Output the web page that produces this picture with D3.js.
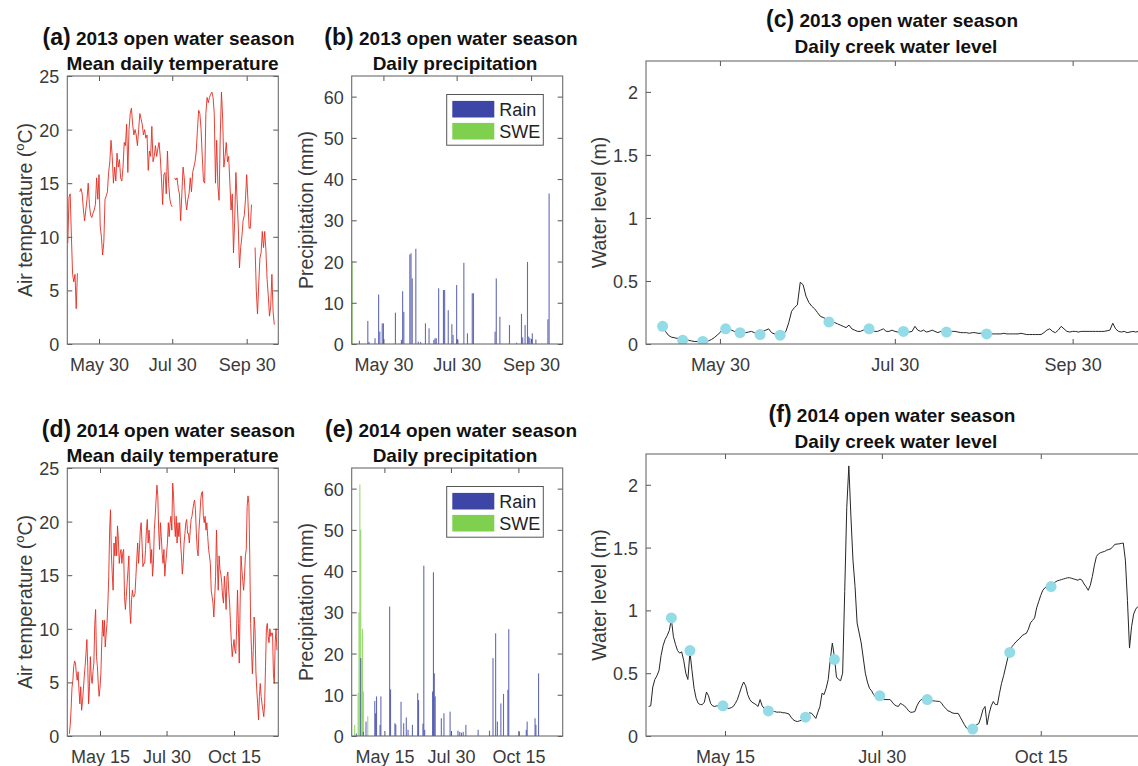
<!DOCTYPE html>
<html lang="en">
<head>
  <meta charset="UTF-8" />
  <title>Open water seasons 2013 and 2014</title>
  <script src="https://d3js.org/d3.v7.min.js"></script>
  <style>
    html, body {
      margin: 0;
      background: #fff;
    }

    svg {
      display: block;
      font-family: "Liberation Sans", Arial, sans-serif;
    }

    /* tick labels and inward ticks, MATLAB look */
    .tick text {
      font-family: "Liberation Sans", Arial, sans-serif;
      font-size: 18px;
      fill: #3a3a3a;
    }

    .tick line {
      stroke: #555;
    }

    .frame {
      fill: none;
      stroke: #6b6b6b;
      stroke-width: 1.1;
    }

    .ttl {
      font-weight: bold;
      font-size: 19px;
      fill: #111;
      text-anchor: middle;
    }

    .ylab {
      font-size: 19.5px;
      fill: #3a3a3a;
      text-anchor: middle;
    }

    .legend text {
      font-size: 18px;
      fill: #222;
    }
  </style>
</head>

<body>
  <svg id="fig" width="1138" height="766"></svg>
  <script>
    // ---- data ----

    // mean daily air temperature (degC), one value per day
    const temp2013Start = "2013-05-04";
    const temp2013 = [
      9.4, 13.7, 14.0, 10.0, 6.5, 5.8, 6.5, 3.3, 6.6, null,
      14.2, 14.5, 14.0, 12.5, 11.5, 12.5, 13.5, 15.0, 13.0, 12.0,
      11.8, 12.2, 12.5, 13.0, 15.5, 13.5, 15.8, 11.0, 10.0, 8.3,
      9.5, 13.5, 13.8, 14.2, 16.0, 17.0, 19.0, 17.5, 15.0, 16.5,
      15.2, 17.8, 16.5, 17.2, 15.5, 15.2, 16.5, 18.8, 18.5, 20.5,
      16.0, 20.0, 21.5, 22.0, 20.5, 19.5, 20.0, 19.5, 18.5, 20.0,
      21.5, 21.0, 20.5, 19.5, 20.0, 19.2, 19.5, 16.2, 18.0, 17.5,
      20.3, 17.0, 17.5, 18.5, 17.5, 18.2, 18.8, 17.5, 15.5, 13.0,
      15.8, 16.0, 14.0, 18.0, 15.0, 13.5, 13.0, 12.8, null, 15.5,
      15.3, 15.5, 14.5, 14.0, 11.5, 14.0, 16.5, 15.5, 13.5, 12.5,
      13.5, 14.0, 15.5, 14.2, 16.0, 16.5, 17.0, 18.0, 20.0, 21.8,
      21.5, 20.0, 17.5, 15.2, 15.0, 21.5, 23.0, 22.5, 23.0, 23.3,
      23.5, 23.0, 21.5, 15.0, 19.0, 14.8, 13.4, 19.5, 23.5, 21.0,
      16.5, 17.5, 18.8, 17.0, 17.5, 15.0, 12.5, 14.0, 8.5, 11.5,
      16.0, 13.5, 11.0, 7.1, 9.0, 10.0, 11.5, 12.0, 13.5, 15.8,
      13.5, 10.8, 10.8, 13.0, null, null, 9.0, 5.0, 2.8, 5.5,
      8.0, 8.5, 10.5, 9.0, 10.5, 8.8, 6.0, 4.5, 2.6, 3.5,
      6.5, 3.0, 1.8
    ];

    const temp2014Start = "2014-04-10";
    const temp2014 = [
      0.2, 1.0, 2.5, 4.5, 5.2, 6.5, 7.0, 6.8, 5.8, 5.2,
      6.0, 4.3, 3.0, 4.6, 2.4, 3.2, 4.3, 5.5, 6.5, 7.7,
      9.0, 6.5, 3.0, 4.6, 7.4, 5.5, 4.9, 6.0, 6.8, 10.4,
      11.8, 7.4, 6.5, 4.9, 3.7, 4.5, 5.8, 8.7, 10.8, 9.3,
      10.8, 8.3, 9.5, 10.5, 12.4, 14.9, 19.2, 21.1, 17.0, 15.1,
      13.6, 18.0, 16.8, 18.6, 16.8, 19.6, 18.3, 16.1, 17.0, 17.4,
      16.1, 17.1, 17.4, 13.0, 11.8, 13.0, 14.3, 15.5, 16.8, 11.8,
      10.5, 12.7, 13.6, 13.0, 13.0, 13.3, 14.9, 16.5, 18.0, 16.1,
      17.4, 19.2, 19.9, 18.0, 15.8, 16.1, 16.1, 17.4, 19.2, 20.2,
      18.0, 19.2, 18.0, 16.1, 17.4, 14.9, 16.1, 19.2, 20.5, 22.0,
      23.4, 22.4, 19.2, 17.4, 19.9, 18.6, 17.0, 16.1, 17.4, 14.9,
      16.1, 17.0, 18.0, 19.9, 18.6, 19.9, 20.5, 19.2, 23.6, 22.4,
      20.0, 18.6, 20.5, 18.0, 19.9, 18.6, 19.9, 18.0, 16.8, 15.1,
      16.1, 18.0, 18.9, 19.9, 20.2, 18.9, 18.9, 18.0, 19.2, 20.2,
      20.5, 21.1, 21.7, 22.0, 21.1, 19.0, 17.4, 16.8, 19.2, 20.5,
      22.0, 22.7, 22.8, 20.5, 19.9, 20.5, 19.2, 19.9, 18.6, 17.4,
      16.8, 16.1, 13.6, 13.0, 12.4, 11.1, 13.0, 14.9, 19.2, 16.1,
      13.6, 16.8, 15.5, 15.1, 14.3, 13.0, 12.4, 14.9, 13.6, 11.8,
      14.9, 15.3, 13.5, 12.4, 10.5, 8.7, 7.4, 8.3, 9.0, 8.0,
      7.7, 10.0, 13.6, 10.5, 6.8, 12.4, 16.8, 15.5, 14.5, 13.6,
      14.9, 16.8, 17.4, 21.4, 22.4, 21.7, 16.8, 10.5, 8.0, 5.8,
      8.0, 11.1, 10.0, 6.0, 4.3, 3.0, 1.5, 3.7, 4.9, 3.7,
      3.0, 2.4, 1.8, 3.0, 6.5, 10.0, 10.5, 9.3, 8.7, 10.0,
      9.3, 9.6, 9.6, 5.8, 4.9, 8.7, 10.0, 8.0
    ];

    // daily precipitation (mm)
    const rain2013Dates = [
      "2013-05-10", "2013-05-17", "2013-05-18", "2013-05-23", "2013-05-26", "2013-05-27",
      "2013-05-29", "2013-05-30", "2013-06-09", "2013-06-14", "2013-06-15", "2013-06-16",
      "2013-06-21", "2013-06-22", "2013-06-23", "2013-06-26", "2013-06-28", "2013-06-30",
      "2013-07-04", "2013-07-07", "2013-07-11", "2013-07-12", "2013-07-13", "2013-07-15",
      "2013-07-19", "2013-07-20", "2013-07-23", "2013-07-26", "2013-07-27", "2013-07-30",
      "2013-07-31", "2013-08-05", "2013-08-08", "2013-08-12", "2013-08-13", "2013-08-31",
      "2013-09-01", "2013-09-04", "2013-09-12", "2013-09-18", "2013-09-22", "2013-09-23",
      "2013-09-25", "2013-09-27", "2013-09-28", "2013-09-29", "2013-10-01", "2013-10-04",
      "2013-10-14", "2013-10-15"
    ];
    const rain2013 = [
      0.8, 5.6, 0.5, 1.4, 12.0, 3.0,
      5.0, 5.0, 7.6, 1.0, 12.8, 7.8,
      21.7, 22.0, 15.9, 23.1, 0.6, 0.5,
      5.0, 3.8, 1.0, 1.4, 1.4, 13.5,
      13.1, 13.1, 8.2, 4.8, 2.2, 14.3,
      1.0, 19.7, 2.6, 12.3, 12.3, 3.0,
      15.9, 6.6, 4.6, 0.3, 7.3, 1.6,
      4.6, 19.9, 1.8, 1.4, 2.6, 1.1,
      6.0, 36.5
    ];
    const swe2013Dates = ["2013-05-04"];
    const swe2013 = [20.0];

    const rain2014Dates = [
      "2014-04-13", "2014-04-18", "2014-04-21", "2014-04-24", "2014-05-04", "2014-05-05",
      "2014-05-06", "2014-05-10", "2014-05-11", "2014-05-21", "2014-05-22", "2014-05-27",
      "2014-05-28", "2014-06-03", "2014-06-06", "2014-06-09", "2014-06-11", "2014-06-16",
      "2014-06-22", "2014-06-23", "2014-06-28", "2014-06-29", "2014-06-30", "2014-07-09",
      "2014-07-10", "2014-07-11", "2014-07-12", "2014-07-19", "2014-07-22", "2014-07-29",
      "2014-08-07", "2014-08-09", "2014-08-11", "2014-08-13", "2014-08-16", "2014-08-30",
      "2014-09-12", "2014-09-16", "2014-09-19", "2014-09-21", "2014-09-25", "2014-09-28",
      "2014-10-03", "2014-10-04", "2014-10-16", "2014-10-24", "2014-10-25", "2014-11-03",
      "2014-11-04", "2014-11-07"
    ];
    const rain2014 = [
      0.6, 18.9, 1.0, 3.5, 8.5, 5.5,
      9.6, 2.7, 9.6, 31.4, 11.3, 3.1,
      2.8, 8.3, 3.1, 4.5, 1.5, 2.7,
      10.4, 8.7, 3.0, 41.3, 1.5, 10.8,
      39.7, 15.2, 9.6, 4.3, 5.5, 5.9,
      1.3, 1.0, 0.8, 1.0, 2.7, 1.5,
      1.3, 18.9, 24.9, 3.5, 7.9, 10.2,
      11.2, 25.9, 1.0, 1.5, 3.5, 4.3,
      2.7, 15.2
    ];
    const swe2014Dates = [
      "2014-04-11", "2014-04-15", "2014-04-16", "2014-04-17",
      "2014-04-18", "2014-04-20", "2014-04-21", "2014-04-26"
    ];
    const swe2014 = [2.7, 10.4, 30.0, 61.0, 50.0, 26.0, 10.8, 4.8];

    // daily creek water level (m)
    const level2013Start = "2013-05-10";
    const level2013 = [
      0.14, 0.10, 0.07, 0.055, 0.05, 0.045, 0.045, 0.04, 0.035, 0.03,
      0.025, 0.02, 0.02, 0.02, 0.02, 0.02, 0.025, 0.035, 0.05, 0.07,
      0.09, 0.12, 0.125, 0.12, 0.11, 0.10, 0.09, 0.09, 0.085, 0.09,
      0.095, 0.10, 0.09, 0.085, 0.09, 0.10, 0.11, 0.12, 0.09, 0.08,
      0.075, 0.075, 0.08, 0.10, 0.17, 0.26, 0.29, 0.31, 0.49, 0.47,
      0.38, 0.33, 0.30, 0.28, 0.25, 0.22, 0.21, 0.20, 0.185, 0.18,
      0.17, 0.16, 0.15, 0.14, 0.13, 0.15, 0.12, 0.11, 0.10, 0.10,
      0.11, 0.11, 0.115, 0.11, 0.10, 0.10, 0.11, 0.12, 0.10, 0.10,
      0.11, 0.10, 0.095, 0.10, 0.10, 0.10, 0.095, 0.10, 0.14, 0.11,
      0.10, 0.11, 0.095, 0.10, 0.11, 0.10, 0.09, 0.10, 0.10, 0.10,
      0.095, 0.10, 0.10, 0.095, 0.09, 0.09, 0.09, 0.085, 0.09, 0.09,
      0.085, 0.085, 0.09, 0.09, 0.085, 0.08, 0.08, 0.08, 0.08, 0.085,
      0.08, 0.08, 0.08, 0.08, 0.08, 0.085, 0.08, 0.075, 0.075, 0.075,
      0.075, 0.075, 0.075, 0.09, 0.11, 0.12, 0.10, 0.09, 0.11, 0.14,
      0.12, 0.10, 0.095, 0.10, 0.10, 0.095, 0.10, 0.10, 0.10, 0.10,
      0.10, 0.10, 0.10, 0.10, 0.10, 0.105, 0.11, 0.165, 0.12, 0.10,
      0.095, 0.10, 0.09, 0.095, 0.10, 0.095, 0.10, 0.10, 0.095, 0.10
    ];

    const level2014Start = "2014-04-08";
    const level2014 = [
      0.235, 0.24, 0.39, 0.45, 0.48, 0.52, 0.64, 0.72, 0.77, 0.80,
      0.84, 0.93, 0.79, 0.73, 0.68, 0.66, 0.67, 0.60, 0.50, 0.45,
      0.67, 0.52, 0.38, 0.30, 0.26, 0.25, 0.25, 0.27, 0.35, 0.32,
      0.26, 0.24, 0.235, 0.24, 0.24, 0.24, 0.24, 0.235, 0.22, 0.22,
      0.225, 0.235, 0.26, 0.29, 0.34, 0.39, 0.43, 0.40, 0.33, 0.29,
      0.27, 0.26, 0.25, 0.235, 0.29, 0.24, 0.22, 0.21, 0.20, 0.20,
      0.195, 0.195, 0.19, 0.19, 0.19, 0.185, 0.185, 0.18, 0.175, 0.15,
      0.13, 0.12, 0.115, 0.12, 0.125, 0.14, 0.15, 0.17, 0.185, 0.18,
      0.16, 0.14, 0.19, 0.235, 0.34, 0.33, 0.38, 0.45, 0.61, 0.74,
      0.63, 0.47, 0.45, 0.44, 0.50, 1.15, 1.82, 2.15, 1.75, 1.40,
      1.19, 0.90, 0.82, 0.74, 0.62, 0.50, 0.43, 0.38, 0.36, 0.33,
      0.31, 0.31, 0.32, 0.295, 0.29, 0.29, 0.29, 0.29, 0.27, 0.25,
      0.24, 0.235, 0.26, 0.25, 0.24, 0.22, 0.20, 0.188, 0.19, 0.195,
      0.24, 0.27, 0.29, 0.29, 0.288, 0.288, 0.285, 0.28, 0.28, 0.278,
      0.276, 0.275, 0.26, 0.235, 0.22, 0.20, 0.195, 0.185, 0.18, 0.18,
      0.18, 0.15, 0.12, 0.09, 0.064, 0.055, 0.056, 0.06, 0.08, 0.09,
      0.10, 0.15, 0.21, 0.235, 0.09, 0.18, 0.24, 0.275, 0.25, 0.25,
      0.34, 0.42, 0.48, 0.55, 0.62, 0.67, 0.71, 0.73, 0.75, 0.765,
      0.78, 0.80, 0.81, 0.817, 0.85, 0.90, 0.92, 0.94, 1.02, 1.07,
      1.12, 1.16, 1.18, 1.19, 1.19, 1.19, 1.21, 1.225, 1.235, 1.24,
      1.245, 1.25, 1.255, 1.26, 1.26, 1.255, 1.25, 1.245, 1.24, 1.25,
      1.24, 1.21, 1.187, 1.16, 1.20, 1.27, 1.36, 1.43, 1.45, 1.46,
      1.465, 1.47, 1.48, 1.485, 1.49, 1.51, 1.526, 1.528, 1.53, 1.533,
      1.536, 1.40, 1.08, 0.70, 0.87, 0.97, 1.01, 1.03, 1.04
    ];

    // field observations (cyan dots)
    const obs2013Dates = [
      "2013-05-10", "2013-05-17", "2013-05-24", "2013-06-01", "2013-06-06", "2013-06-13",
      "2013-06-20", "2013-07-07", "2013-07-21", "2013-08-02", "2013-08-17", "2013-08-31"
    ];
    const obs2013 = [0.14, 0.03, 0.02, 0.12, 0.09, 0.075, 0.07, 0.175, 0.12, 0.10, 0.095, 0.08];

    const obs2014Dates = [
      "2014-04-19", "2014-04-28", "2014-05-14", "2014-06-05", "2014-06-23", "2014-07-07",
      "2014-07-29", "2014-08-21", "2014-09-12", "2014-09-30", "2014-10-20"
    ];
    const obs2014 = [0.94, 0.68, 0.24, 0.20, 0.15, 0.61, 0.32, 0.29, 0.055, 0.665, 1.19];

    // tick labels
    const xTicks2013 = ["2013-05-30", "2013-07-30", "2013-09-30"];
    const xTicks2014 = ["2014-05-15", "2014-07-30", "2014-10-15"];
    const tempTicks = [0, 5, 10, 15, 20, 25];
    const precipTicks = [0, 10, 20, 30, 40, 50, 60];
    const levelTicks = [0, 0.5, 1, 1.5, 2];
    const legendLabels = ["Rain", "SWE"];

    // ---- helpers ----
    const parse = d3.timeParse("%Y-%m-%d");
    const fmtDate = d3.timeFormat("%b %d");

    function daily(start, values) {
      const s = parse(start);
      return values.map((v, i) => ({ date: d3.timeDay.offset(s, i), v: v }));
    }

    function dated(dates, values) {
      return dates.map((d, i) => ({ date: parse(d), v: values[i] }));
    }

    const svg = d3.select("#fig");
    svg.append("rect").attr("width", 1138).attr("height", 766).attr("fill", "#fff");

    const red = "#e42b20";
    const rainColor = "#3d46a6";
    const sweColor = "#80d04f";
    const dotColor = "#93dbe7";

    const dom2013 = [new Date(2013, 4, 3, 14), new Date(2013, 9, 26, 8)];
    const dom2014 = [new Date(2014, 3, 7, 16), new Date(2014, 11, 4, 14)];
    const domC = [new Date(2013, 4, 4, 5), new Date(2013, 9, 27, 8)];
    const domF = [new Date(2014, 3, 6, 17), new Date(2014, 11, 7, 10)];

    let clipId = 0;

    // draw frame, inward ticks on all four sides, titles and y label
    function panel(p) {
      const g = svg.append("g").attr("transform", `translate(${p.x},${p.y})`);
      const x = d3.scaleTime().domain(p.xDomain).range([0, p.w]);
      const y = d3.scaleLinear().domain(p.yDomain).range([p.h, 0]);

      const id = "clip" + (clipId++);
      g.append("clipPath").attr("id", id)
        .append("rect").attr("width", p.w).attr("height", p.h);
      const plot = g.append("g").attr("clip-path", `url(#${id})`);

      const xt = p.xTicks.map(parse);

      g.append("g").attr("transform", `translate(0,${p.h})`)
        .call(d3.axisBottom(x).tickValues(xt).tickFormat(fmtDate)
          .tickSizeInner(-5).tickSizeOuter(0).tickPadding(14))
        .call(a => a.select(".domain").remove());
      g.append("g")
        .call(d3.axisTop(x).tickValues(xt).tickFormat(() => "")
          .tickSizeInner(-5).tickSizeOuter(0))
        .call(a => a.select(".domain").remove());
      g.append("g")
        .call(d3.axisLeft(y).tickValues(p.yTicks).tickFormat(d3.format("~g"))
          .tickSizeInner(-5).tickSizeOuter(0).tickPadding(8))
        .call(a => a.select(".domain").remove())
        .selectAll("text").attr("dy", "0.36em");
      g.append("g").attr("transform", `translate(${p.w},0)`)
        .call(d3.axisRight(y).tickValues(p.yTicks).tickFormat(() => "")
          .tickSizeInner(-5).tickSizeOuter(0))
        .call(a => a.select(".domain").remove());

      g.append("rect").attr("class", "frame")
        .attr("width", p.w).attr("height", p.h);

      // two-line title
      const t1 = svg.append("text").attr("class", "ttl")
        .attr("x", p.cx - 4).attr("y", p.y - p.t1);
      t1.append("tspan").attr("font-size", 23).text(p.tag);
      t1.append("tspan").text(" " + p.title1);
      svg.append("text").attr("class", "ttl")
        .attr("x", p.cx).attr("y", p.y - p.t2).text(p.title2);

      // y label
      const yl = svg.append("text").attr("class", "ylab")
        .attr("transform", `translate(${p.lx},${p.y + p.h / 2}) rotate(-90)`);
      yl.append("tspan").text(p.ylabel);
      if (p.ysup) {
        yl.append("tspan").attr("font-size", 13).attr("dy", -8).text(p.ysup);
        yl.append("tspan").attr("dy", 8).text(p.yrest);
      }

      return { g, plot, x, y, p };
    }

    function tempPanel(p, data) {
      const P = panel(p);
      P.plot.append("path")
        .datum(data)
        .attr("fill", "none")
        .attr("stroke", red)
        .attr("stroke-width", 0.9)
        .attr("d", d3.line().defined(d => d.v != null).x(d => P.x(d.date)).y(d => P.y(d.v)));
    }

    function precipPanel(p, swe, rain) {
      const P = panel(p);
      const bw = 1.1;
      [[swe, sweColor], [rain, rainColor]].forEach(([data, col]) => {
        P.plot.selectAll(null).data(data).enter().append("rect")
          .attr("x", d => P.x(d.date) - bw / 2)
          .attr("width", bw)
          .attr("y", d => P.y(d.v))
          .attr("height", d => P.y(0) - P.y(d.v))
          .attr("fill", col)
          .attr("fill-opacity", 0.8);
      });

      // legend
      const lg = P.g.append("g").attr("class", "legend")
        .attr("transform", `translate(${p.w - 116},18.5)`);
      lg.append("rect").attr("width", 96.6).attr("height", 50.7)
        .attr("fill", "#fff").attr("stroke", "#555").attr("stroke-width", 1);
      [rainColor, sweColor].forEach((c, i) => {
        lg.append("rect").attr("x", 5.6).attr("y", 6.4 + i * 22)
          .attr("width", 42).attr("height", 16.6).attr("fill", c);
        lg.append("text").attr("x", 52.6).attr("y", 21 + i * 22).text(legendLabels[i]);
      });
    }

    function levelPanel(p, line, obs) {
      const P = panel(p);
      P.plot.append("path")
        .datum(line)
        .attr("fill", "none")
        .attr("stroke", "#262626")
        .attr("stroke-width", 1)
        .attr("d", d3.line().x(d => P.x(d.date)).y(d => P.y(d.v)));
      P.plot.selectAll(null).data(obs).enter().append("circle")
        .attr("cx", d => P.x(d.date))
        .attr("cy", d => P.y(d.v))
        .attr("r", 5.5)
        .attr("fill", dotColor);
    }

    // ---- panels ----
    tempPanel({
      x: 67.3, y: 76, w: 211, h: 268, xDomain: dom2013, yDomain: [0, 25],
      xTicks: xTicks2013, yTicks: tempTicks, cx: 172.5, t1: 31.5, t2: 6.5,
      tag: "(a)", title1: "2013 open water season", title2: "Mean daily temperature",
      lx: 32, ylabel: "Air temperature (", ysup: "o", yrest: "C)"
    }, daily(temp2013Start, temp2013));

    precipPanel({
      x: 351.7, y: 76, w: 211, h: 268, xDomain: dom2013, yDomain: [0, 65],
      xTicks: xTicks2013, yTicks: precipTicks, cx: 455, t1: 31.5, t2: 6.5,
      tag: "(b)", title1: "2013 open water season", title2: "Daily precipitation",
      lx: 313, ylabel: "Precipitation (mm)"
    }, dated(swe2013Dates, swe2013), dated(rain2013Dates, rain2013));

    levelPanel({
      x: 646, y: 61, w: 505, h: 283, xDomain: domC, yDomain: [0, 2.245],
      xTicks: xTicks2013, yTicks: levelTicks, cx: 896, t1: 34, t2: 8,
      tag: "(c)", title1: "2013 open water season", title2: "Daily creek water level",
      lx: 606, ylabel: "Water level (m)"
    }, daily(level2013Start, level2013), dated(obs2013Dates, obs2013));

    tempPanel({
      x: 67.3, y: 468, w: 211, h: 268, xDomain: dom2014, yDomain: [0, 25],
      xTicks: xTicks2014, yTicks: tempTicks, cx: 172.5, t1: 31.5, t2: 6.5,
      tag: "(d)", title1: "2014 open water season", title2: "Mean daily temperature",
      lx: 32, ylabel: "Air temperature (", ysup: "o", yrest: "C)"
    }, daily(temp2014Start, temp2014));

    precipPanel({
      x: 351.7, y: 468, w: 211, h: 268, xDomain: dom2014, yDomain: [0, 65],
      xTicks: xTicks2014, yTicks: precipTicks, cx: 455, t1: 31.5, t2: 6.5,
      tag: "(e)", title1: "2014 open water season", title2: "Daily precipitation",
      lx: 313, ylabel: "Precipitation (mm)"
    }, dated(swe2014Dates, swe2014), dated(rain2014Dates, rain2014));

    levelPanel({
      x: 646, y: 454, w: 505, h: 282, xDomain: domF, yDomain: [0, 2.245],
      xTicks: xTicks2014, yTicks: levelTicks, cx: 896, t1: 32, t2: 6,
      tag: "(f)", title1: "2014 open water season", title2: "Daily creek water level",
      lx: 606, ylabel: "Water level (m)"
    }, daily(level2014Start, level2014), dated(obs2014Dates, obs2014));
  </script>
</body>

</html>
